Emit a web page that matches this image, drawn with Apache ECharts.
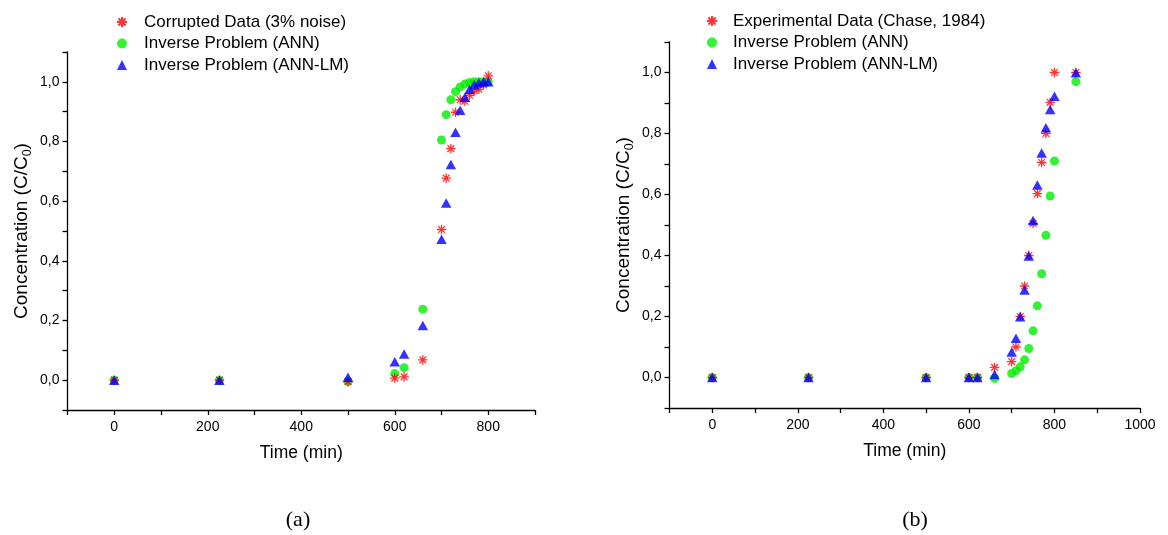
<!DOCTYPE html>
<html>
<head>
<meta charset="utf-8">
<script src="https://cdn.jsdelivr.net/npm/echarts@6/dist/echarts.min.js"></script>
<style>
html,body{margin:0;padding:0;background:#fff;}
#chart{width:1168px;height:535px;}
</style>
</head>
<body>
<div id="chart"></div>
<script>
// Panel (a)
const timeA = [0, 225, 500, 600, 620, 660, 700, 710, 720, 730, 740, 750, 760, 770, 780, 790, 800];
const corruptedA = [0, 0, -0.005, 0.007, 0.011, 0.068, 0.505, 0.677, 0.776, 0.898, 0.94, 0.935, 0.955, 0.97, 0.975, 0.99, 1.02];
const annA = [0, 0, -0.005, 0.022, 0.042, 0.238, 0.805, 0.89, 0.94, 0.967, 0.983, 0.993, 0.998, 1.0, 1.0, 1.0, 1.0];
const annLmA = [0, 0, 0.01, 0.062, 0.088, 0.183, 0.472, 0.594, 0.723, 0.831, 0.905, 0.948, 0.975, 0.99, 0.997, 1.0, 1.0];
// Panel (b)
const timeB = [0, 225, 500, 600, 620, 660, 700, 710, 720, 730, 740, 750, 760, 770, 780, 790, 800, 850];
const expB = [0, 0, 0, 0, 0, 0.033, 0.052, 0.10, 0.20, 0.30, 0.40, 0.505, 0.603, 0.705, 0.80, 0.902, 1.0, 1.0];
const annB = [0, 0, 0, 0, 0, -0.003, 0.013, 0.022, 0.035, 0.058, 0.095, 0.153, 0.235, 0.34, 0.466, 0.595, 0.71, 0.97];
const annLmB = [0, 0, 0, 0, 0, 0.01, 0.084, 0.129, 0.199, 0.287, 0.398, 0.515, 0.631, 0.736, 0.819, 0.879, 0.922, 0.999];

const namesA = ['Corrupted Data (3% noise)', 'Inverse Problem (ANN)', 'Inverse Problem (ANN-LM)'];
const namesB = ['Experimental Data (Chase, 1984)', 'Inverse Problem (ANN)', 'Inverse Problem (ANN-LM)'];
const panelLabels = ['(a)', '(b)'];
const xTitle = 'Time (min)';

const FONT = 'Liberation Sans, Arial, sans-serif';
const RED = '#ff0000', GREEN = '#00ee00', BLUE = '#0000ff';
const STAR = 'path://M0,5L10,5M5,0L5,10M1.46,1.46L8.54,8.54M8.54,1.46L1.46,8.54';

function pairs(xs, ys) { return xs.map((x, i) => [x, ys[i]]); }

function yFmt(v) {
  const k = Math.round(v * 10);
  return (k >= 0 && k % 2 === 0) ? (k / 10).toFixed(1).replace('.', ',') : '';
}
function xFmt(v) { return (v >= 0 && v % 200 === 0) ? String(v) : ''; }

const axisLineStyle = { show: true, onZero: false, lineStyle: { color: '#000', width: 1.3 } };
const tickStyle = { show: true, inside: false, length: 5, lineStyle: { color: '#000', width: 1.3 } };

function xAxis(gi, max) {
  return {
    type: 'value', gridIndex: gi, min: -100, max: max, interval: 100,
    axisLine: axisLineStyle, axisTick: tickStyle, splitLine: { show: false },
    axisLabel: { formatter: xFmt, fontFamily: FONT, fontSize: 14, color: '#000', margin: 10, showMinLabel: true, showMaxLabel: true },
    name: xTitle, nameLocation: 'middle', nameGap: 34,
    nameTextStyle: { fontFamily: FONT, fontSize: 17.5, color: '#000' }
  };
}
function yAxis(gi) {
  return {
    type: 'value', gridIndex: gi, min: -0.1, max: 1.1, interval: 0.1,
    axisLine: axisLineStyle, axisTick: tickStyle, splitLine: { show: false },
    axisLabel: { formatter: yFmt, fontFamily: FONT, fontSize: 14, color: '#000', margin: 8, showMinLabel: true, showMaxLabel: true },
    name: '{n|Concentration (C/C}{s|0}{n|)}', nameLocation: 'middle', nameRotate: 90, nameGap: 33,
    nameTextStyle: {
      fontFamily: FONT, fontSize: 19, color: '#000',
      rich: {
        n: { fontFamily: FONT, fontSize: 19, color: '#000', lineHeight: 26, verticalAlign: 'middle' },
        s: { fontFamily: FONT, fontSize: 12.5, color: '#000', lineHeight: 13, verticalAlign: 'bottom' }
      }
    }
  };
}

function starSeries(name, gi, xs, ys) {
  return { type: 'scatter', name, xAxisIndex: gi, yAxisIndex: gi, data: pairs(xs, ys),
    symbol: STAR, symbolSize: 9.5, z: 3,
    itemStyle: { color: 'rgba(0,0,0,0)', borderColor: RED, borderWidth: 1.3 } };
}
function circSeries(name, gi, xs, ys) {
  return { type: 'scatter', name, xAxisIndex: gi, yAxisIndex: gi, data: pairs(xs, ys),
    symbol: 'circle', symbolSize: 9, z: 2, itemStyle: { color: GREEN } };
}
function triSeries(name, gi, xs, ys) {
  return { type: 'scatter', name, xAxisIndex: gi, yAxisIndex: gi, data: pairs(xs, ys),
    symbol: 'triangle', symbolSize: [10.5, 9.5], z: 4, itemStyle: { color: BLUE } };
}

function legend(names, left, top, pad) {
  return {
    orient: 'vertical', left, top, data: names,
    itemWidth: 10, itemHeight: 10, itemGap: 4.5,
    textStyle: { fontFamily: FONT, fontSize: 17, color: '#000', lineHeight: 17, padding: [0, 0, 0, pad] },
    selectedMode: false
  };
}

const chart = echarts.init(document.getElementById('chart'), null, { renderer: 'canvas' });
chart.setOption({
  animation: false,
  backgroundColor: '#fff',
  grid: [
    { left: 67.5, top: 52, width: 467.5, height: 358 },
    { left: 669.5, top: 42, width: 470.5, height: 366 }
  ],
  xAxis: [xAxis(0, 900), xAxis(1, 1000)],
  yAxis: [yAxis(0), yAxis(1)],
  legend: [legend(namesA, 111, 8.5, 12), legend(namesB, 701, 7.5, 11)],
  title: [
    { text: panelLabels[0], left: 293, top: 504, textAlign: 'center', textStyle: { fontFamily: 'Liberation Serif, Times New Roman, serif', fontSize: 22, fontWeight: 'normal', color: '#000' } },
    { text: panelLabels[1], left: 910, top: 504, textAlign: 'center', textStyle: { fontFamily: 'Liberation Serif, Times New Roman, serif', fontSize: 22, fontWeight: 'normal', color: '#000' } }
  ],
  series: [
    circSeries(namesA[1], 0, timeA, annA),
    starSeries(namesA[0], 0, timeA, corruptedA),
    triSeries(namesA[2], 0, timeA, annLmA),
    circSeries(namesB[1], 1, timeB, annB),
    starSeries(namesB[0], 1, timeB, expB),
    triSeries(namesB[2], 1, timeB, annLmB)
  ]
});
</script>
</body>
</html>
